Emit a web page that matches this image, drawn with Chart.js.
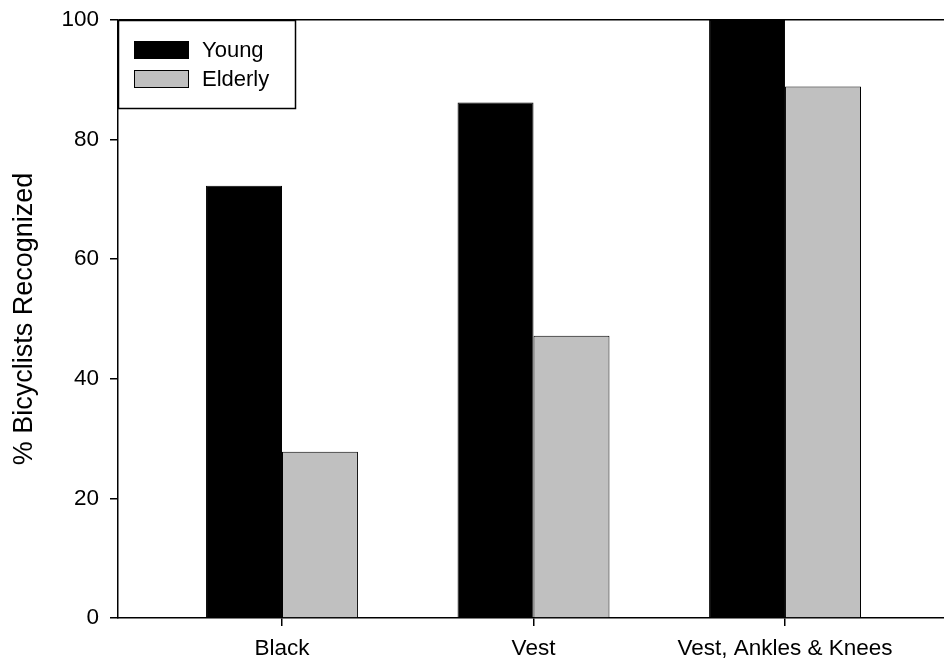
<!DOCTYPE html>
<html>
<head>
<meta charset="utf-8">
<script src="https://cdn.jsdelivr.net/npm/chart.js@4"></script>
<style>
  html, body { margin: 0; padding: 0; background: #fff; }
  #wrap { width: 944px; height: 668px; }
</style>
</head>
<body>
<div id="wrap"><canvas id="chart"></canvas></div>
<script>
const categories = ['Black', 'Vest', 'Vest, Ankles & Knees'];
const youngValues = [72.3, 86.2, 100];
const elderlyValues = [27.8, 47.2, 88.9];
const yTicks = [0, 20, 40, 60, 80, 100];

const FONT = "'Liberation Sans', Arial, sans-serif";

// legend box drawn by hand, top-left inside the plot
const boxLegend = {
    id: 'boxLegend',
    afterDraw(chart) {
        const ctx = chart.ctx;
        const a = chart.chartArea;
        ctx.save();
        ctx.lineWidth = 1.5;
        ctx.strokeStyle = '#000';
        ctx.fillStyle = '#fff';
        ctx.fillRect(a.left, a.top, 177, 88);
        ctx.strokeRect(a.left + 0.5, a.top + 0.5, 177, 88);
        ctx.font = '22px ' + FONT;
        ctx.textBaseline = 'middle';
        chart.data.datasets.forEach((ds, i) => {
            const y = a.top + 21 + i * 29;
            ctx.fillStyle = ds.backgroundColor;
            ctx.fillRect(a.left + 16, y, 54, 18);
            ctx.lineWidth = 1;
            ctx.strokeRect(a.left + 16.5, y + 0.5, 54, 17);
            ctx.fillStyle = '#000';
            ctx.fillText(ds.label, a.left + 84, y + 10);
        });
        ctx.restore();
    }
};

new Chart(document.getElementById('chart'), {
    type: 'bar',
    data: {
        datasets: [
            {
                label: 'Young',
                data: youngValues.map((v, i) => ({ x: i + 1, y: v })),
                backgroundColor: '#000000',
                borderColor: '#000000',
                borderWidth: 1
            },
            {
                label: 'Elderly',
                data: elderlyValues.map((v, i) => ({ x: i + 1, y: v })),
                backgroundColor: '#c0c0c0',
                borderColor: '#000000',
                borderWidth: 1
            }
        ]
    },
    options: {
        responsive: true,
        maintainAspectRatio: false,
        animation: false,
        categoryPercentage: 0.604,
        barPercentage: 1,
        layout: { padding: { top: 20, left: 0, right: 0, bottom: 0 } },
        plugins: {
            legend: { display: false },
            tooltip: { enabled: false }
        },
        scales: {
            x: {
                type: 'linear',
                offset: false,
                min: 0.348,
                max: 3.632,
                afterBuildTicks: axis => {
                    axis.ticks = categories.map((c, i) => ({ value: i + 1 }));
                },
                afterFit: axis => {
                    axis.height = 50;
                    axis.paddingLeft = 0;
                    axis.paddingRight = 0;
                },
                ticks: {
                    callback: (v) => categories[v - 1] || '',
                    color: '#000',
                    font: { family: FONT, size: 22.5 },
                    padding: 9,
                    maxRotation: 0,
                    autoSkip: false
                },
                grid: { offset: false, drawOnChartArea: false, color: '#000', tickLength: 8, lineWidth: 1.5 },
                border: { color: '#000', width: 1.5 }
            },
            y: {
                min: 0,
                max: 100,
                afterBuildTicks: axis => {
                    axis.ticks = yTicks.map(v => ({ value: v }));
                },
                afterFit: axis => {
                    axis.width = 118;
                    axis.paddingTop = 0;
                    axis.paddingBottom = 0;
                },
                ticks: {
                    color: '#000',
                    font: { family: FONT, size: 22.5 },
                    padding: 11
                },
                grid: {
                    color: c => (c.tick && c.tick.value === 100) ? '#000' : 'rgba(0,0,0,0)',
                    tickColor: '#000',
                    tickLength: 8,
                    lineWidth: 1.5
                },
                border: { color: '#000', width: 1.5 },
                title: {
                    display: true,
                    text: '% Bicyclists Recognized',
                    color: '#000',
                    font: { family: FONT, size: 27 },
                    padding: { top: 8, bottom: 0 }
                }
            }
        }
    },
    plugins: [boxLegend]
});
</script>
</body>
</html>
